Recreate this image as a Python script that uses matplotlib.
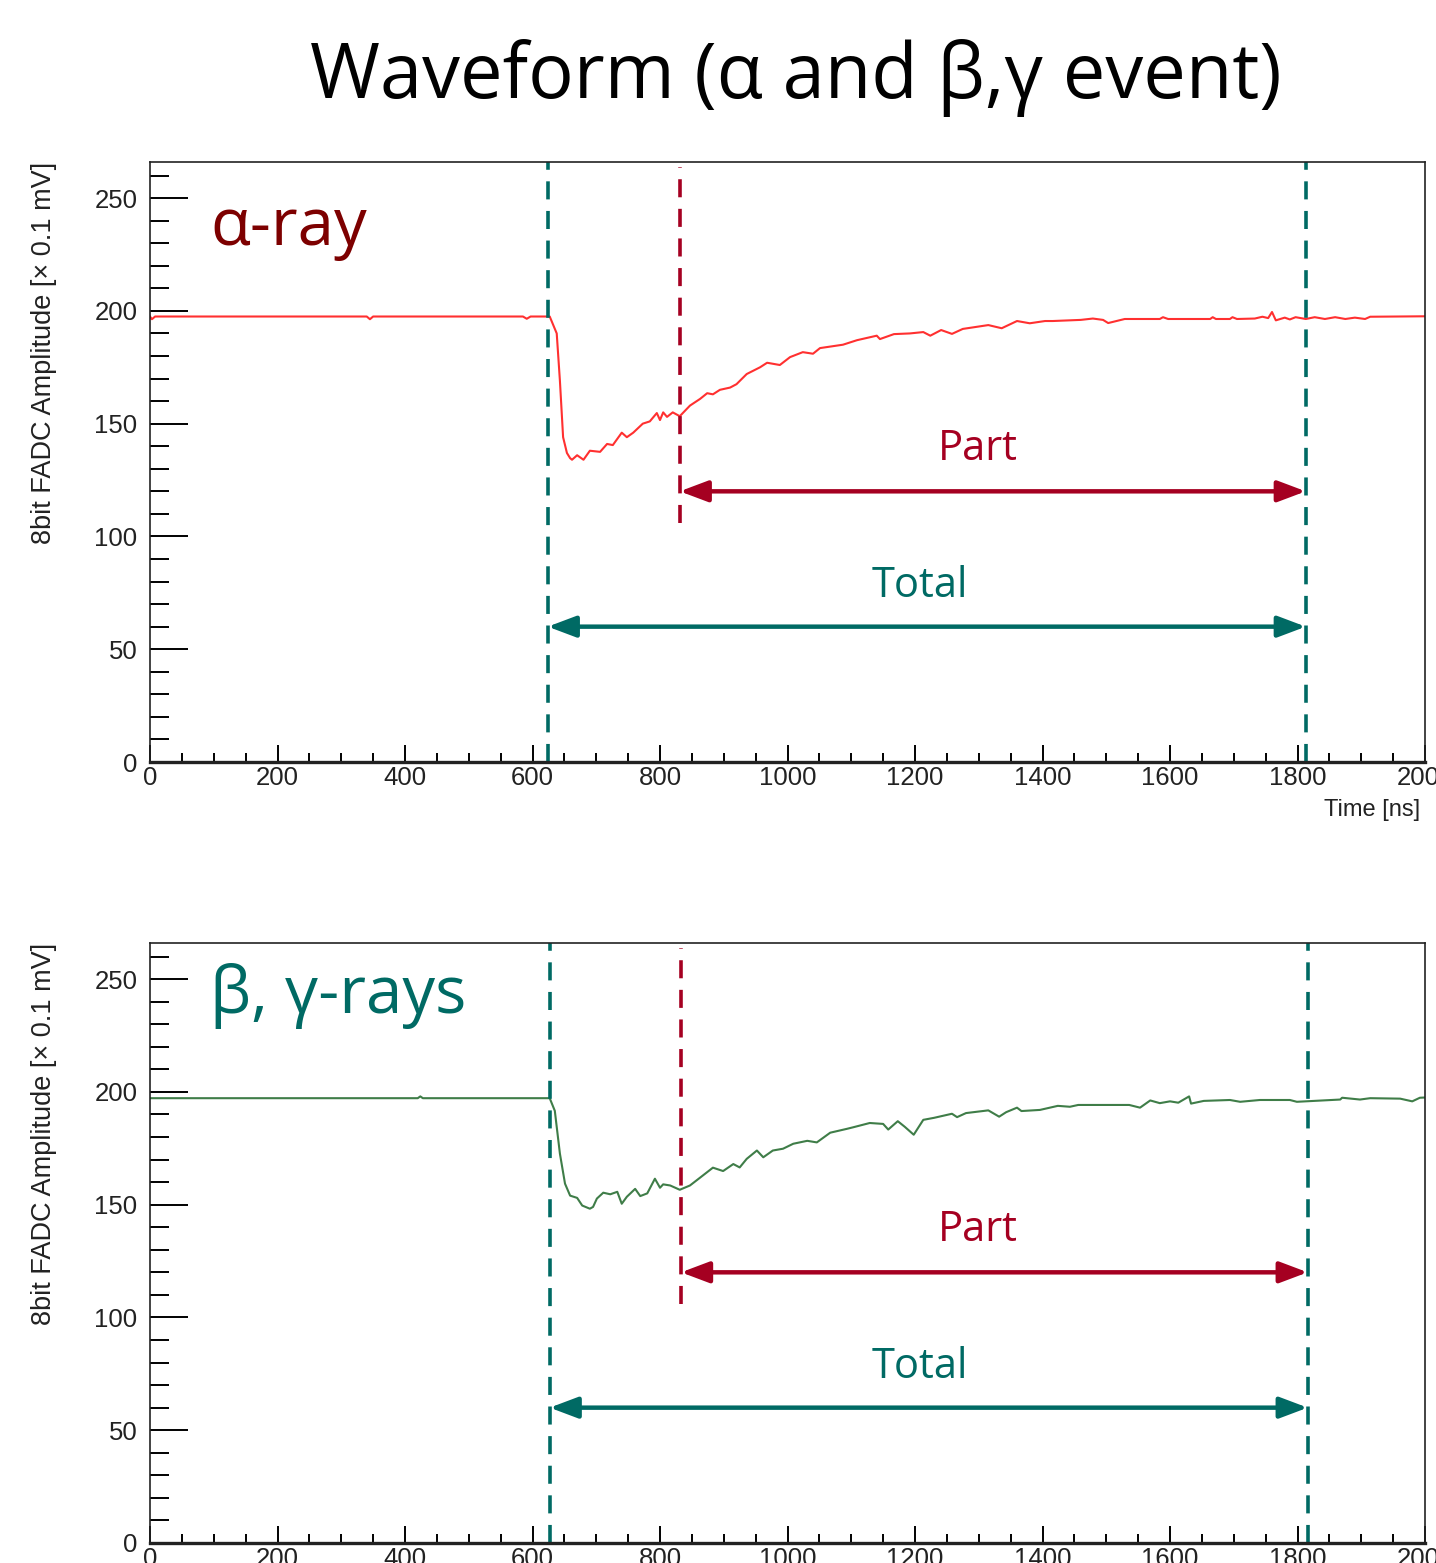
import matplotlib
matplotlib.use("Agg")
import matplotlib.pyplot as plt
from matplotlib.ticker import MultipleLocator

# ---------------- data ----------------
alpha_t = [0, 3, 8, 340, 345, 350, 585, 591, 597, 627, 638, 643, 648, 654, 659, 662, 670, 680,
           690, 706, 717, 726, 740, 748, 758, 773, 784, 795, 800, 805, 811, 820, 831, 847, 863,
           874, 883, 894, 910, 920, 936, 957, 968, 988, 1004, 1024, 1040, 1051, 1087, 1109,
           1140, 1145, 1167, 1192, 1213, 1224, 1241, 1258, 1275, 1315, 1336, 1360, 1380, 1404,
           1416, 1460, 1479, 1495, 1503, 1529, 1584, 1589, 1597, 1663, 1667, 1672, 1694, 1698,
           1705, 1733, 1745, 1754, 1760, 1766, 1780, 1788, 1797, 1813, 1827, 1843, 1859, 1875,
           1890, 1906, 1914, 2000]
alpha_v = [197.5, 196.3, 197.5, 197.5, 196.3, 197.5, 197.5, 196.5, 197.5, 197.5, 190, 169, 144,
           137, 134.7, 134, 136, 134, 138, 137.5, 141, 140.5, 146, 144, 146, 150, 151, 154.7,
           151.6, 155, 153, 155, 153.3, 158, 161, 163.5, 163, 165, 166, 167.5, 172, 175, 177,
           176, 179.5, 181.7, 181, 183.5, 185, 187, 189, 187.5, 189.7, 190, 190.6, 189, 191.5,
           189.8, 192, 193.7, 192.3, 195.5, 194.5, 195.5, 195.5, 196, 196.6, 196, 194.6, 196.4,
           196.4, 197.2, 196.4, 196.4, 197.2, 196.4, 196.4, 197.2, 196.4, 196.6, 197.4, 196.8,
           199.5, 195.8, 197, 196.2, 197.2, 196.4, 197.2, 196.4, 197.2, 196.4, 197, 196.4, 197.4,
           197.6]

beta_t = [0, 420, 424, 428, 627, 635, 643, 651, 659, 670, 678, 690, 695, 701, 711, 722, 733, 740,
          748, 761, 769, 780, 792, 800, 805, 816, 831, 847, 863, 883, 899, 915, 925, 936, 952,
          962, 977, 993, 1009, 1031, 1046, 1067, 1093, 1103, 1129, 1150, 1158, 1173, 1184, 1198,
          1213, 1230, 1258, 1266, 1280, 1315, 1332, 1343, 1360, 1367, 1396, 1424, 1443, 1456,
          1536, 1553, 1569, 1584, 1600, 1613, 1630, 1633, 1653, 1694, 1710, 1741, 1788, 1799,
          1867, 1870, 1898, 1914, 1961, 1980, 1992, 2000]
beta_v = [197.2, 197.2, 198.0, 197.2, 197.2, 191.6, 172.6, 159.3, 154, 153, 149.6, 148.2, 149,
          152.7, 155.3, 154.6, 155.7, 150.4, 153.5, 157, 153.8, 155, 161.5, 157.5, 159, 158.5,
          156.6, 158.5, 162, 166.4, 164.9, 168, 166.5, 170.3, 174, 171, 174, 174.8, 177, 178.3,
          177.6, 181.9, 183.6, 184.3, 186.2, 185.8, 183.3, 187, 184.5, 181, 187.6, 188.5, 190.3,
          188.8, 190.6, 191.8, 189, 191, 193, 191.5, 192, 193.8, 193.4, 194.2, 194.2, 193, 196.2,
          195, 195.8, 195.2, 198, 194.8, 196, 196.4, 195.6, 196.4, 196.4, 195.6, 196.6, 197.4,
          196.6, 197.2, 197.0, 195.8, 197.4, 197.5]

# integration window markers [ns]
alpha_window = [624, 831, 1813]   # total start, part start, end
beta_window = [627, 833, 1816]
part_arrow_y = 120
total_arrow_y = 60

title = "Waveform (\u03b1 and \u03b2,\u03b3 event)"
xlabel = "Time [ns]"
ylabel = "8bit FADC Amplitude [\u00d7 0.1 mV]"

# ---------------- style ----------------
TEAL = "#006a64"
CRIMSON = "#a50021"
DARKRED = "#7d0000"
TXT = ["Open Sans", "DejaVu Sans"]
TICKFONT = ["Liberation Sans", "DejaVu Sans"]

W, H = 1436, 1563
fig = plt.figure(figsize=(W / 100, H / 100), dpi=100)

fig.text(796 / W, 1 - 78 / H, title, ha="center", va="center",
         fontsize=54.5, family=TXT, color="black")


def make_axes(rect, t, v, color, window, label, label_color, show_xlabel):
    ax = fig.add_axes(rect)
    ax.set_xlim(0, 2000)
    ax.set_ylim(0, 266)
    ax.plot(t, v, color=color, lw=1.5, solid_joinstyle="round")

    ax.xaxis.set_major_locator(MultipleLocator(200))
    ax.xaxis.set_minor_locator(MultipleLocator(50))
    ax.yaxis.set_major_locator(MultipleLocator(50))
    ax.yaxis.set_minor_locator(MultipleLocator(10))
    ax.tick_params(axis="y", which="major", direction="in", length=27, width=1.4,
                   pad=9, labelsize=18.5, labelcolor="#222222", left=True, right=False)
    ax.tick_params(axis="y", which="minor", direction="in", length=14, width=1.4,
                   left=True, right=False)
    ax.tick_params(axis="x", which="major", direction="in", length=12, width=1.4,
                   pad=3, labelsize=18.5, labelcolor="#222222", bottom=True, top=False)
    ax.tick_params(axis="x", which="minor", direction="in", length=6.5, width=1.4,
                   bottom=True, top=False)
    for lab in ax.get_xticklabels() + ax.get_yticklabels():
        lab.set_family(TICKFONT)
    for side in ["top", "right", "left"]:
        ax.spines[side].set_linewidth(1.2)
        ax.spines[side].set_color("#222222")
    ax.spines["bottom"].set_linewidth(2.4)
    ax.spines["bottom"].set_color("#222222")

    ax.set_ylabel(ylabel, loc="top", fontsize=19.5, family=TICKFONT, color="#222222")
    ax.yaxis.set_label_coords(-(150 - 57) / 1275, 1.0)
    if show_xlabel:
        ax.set_xlabel(xlabel, loc="right", fontsize=17, family=TICKFONT, color="#222222")
        ax.xaxis.set_label_coords(1270 / 1275, -0.062)

    t0, t1, t2 = window
    ax.axvline(t0, color=TEAL, lw=2.6, ls=(0, (5, 3.2)))
    ax.axvline(t2, color=TEAL, lw=2.6, ls=(0, (5, 3.2)))
    ax.plot([t1, t1], [106, 264], color=CRIMSON, lw=2.6, ls=(0, (5, 3.2)))

    astyle = "<|-|>,head_length=0.85,head_width=0.32"
    ax.annotate("", xy=(t2, part_arrow_y), xytext=(t1, part_arrow_y),
                arrowprops=dict(arrowstyle=astyle, lw=3.2, color=CRIMSON,
                                shrinkA=0, shrinkB=0, mutation_scale=20))
    ax.annotate("", xy=(t2, total_arrow_y), xytext=(t0, total_arrow_y),
                arrowprops=dict(arrowstyle=astyle, lw=3.2, color=TEAL,
                                shrinkA=0, shrinkB=0, mutation_scale=20))
    ax.text((828 / 1275), (part_arrow_y + 14) / 266, "Part", ha="center", va="baseline",
            fontsize=30, family=TXT, color=CRIMSON, transform=ax.transAxes)
    ax.text((770 / 1275), (total_arrow_y + 13) / 266, "Total", ha="center", va="baseline",
            fontsize=30, family=TXT, color=TEAL, transform=ax.transAxes)
    ax.text(60 / 1275, label[1], label[0], transform=ax.transAxes, ha="left",
            va="baseline", fontsize=47, family=TXT, color=label_color)
    return ax


ax1 = make_axes([150 / W, 1 - 762 / H, 1275 / W, 600 / H], alpha_t, alpha_v, "#ff3030",
                alpha_window, ("\u03b1-ray", 0.862), DARKRED, True)
ax2 = make_axes([150 / W, 1 - 1543 / H, 1275 / W, 600 / H], beta_t, beta_v, "#3f7d48",
                beta_window, ("\u03b2, \u03b3-rays", 0.883), TEAL, False)

fig.savefig("out.png", dpi=100)
